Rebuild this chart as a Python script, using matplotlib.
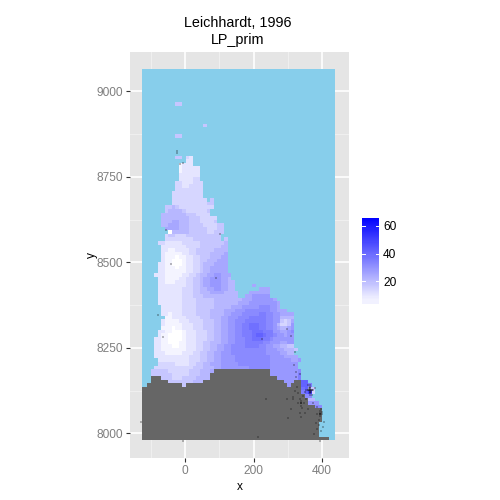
import numpy as np
import matplotlib
matplotlib.use("Agg")
import matplotlib.pyplot as plt
from matplotlib.colors import LinearSegmentedColormap
from matplotlib.patches import Rectangle

plt.rcParams['font.family'] = ['Liberation Sans', 'DejaVu Sans']

TITLE = "Leichhardt, 1996\nLP_prim"
X_TICKS = [0, 200, 400]
X_MINOR = [-100, 100, 300]
Y_TICKS = [8000, 8250, 8500, 8750, 9000]
Y_MINOR = [8125, 8375, 8625, 8875]
LEGEND_TICKS = [20, 40, 60]
VALUE_MIN, VALUE_MAX = 3.4, 66.0
LEVEL_VALUES = {'0': 3.4, '1': 6.2, '2': 9.8, '3': 13.6, '4': 17.4, '5': 21.2, '6': 25.0,
                '7': 28.6, '8': 32.2, '9': 35.4, 'A': 38.5, 'B': 42, 'C': 50}

# (row from bottom, first column, levels per cell)
LAND_ROWS = [
    (94, 10, "44"), (88, 18, "4"), (85, 10, "44"), (79, 10, "44"), (79, 13, "32"),
    (78, 13, "22"), (77, 11, "1222"), (76, 11, "122222"), (75, 11, "122222"),
    (74, 11, "222222"), (73, 11, "222233"), (72, 10, "33222333"), (71, 10, "33223333"),
    (70, 10, "33333333"), (69, 9, "333333333"), (68, 9, "333333333"),
    (67, 9, "3333333333"), (67, 20, "4"), (66, 9, "333333333344"),
    (65, 7, "44543333333333"), (64, 7, "4555543333334"), (63, 6, "55555554443333"),
    (62, 6, "5555555544433333"), (61, 6, "5556655544433334"), (60, 6, "556665554444333344"),
    (59, 7, "66665554444433344"), (58, 8, "0"), (58, 9, "555554444433444"),
    (57, 7, "3443334444444444"), (56, 7, "3333333344444444"), (56, 24, "4"),
    (55, 5, "33222223333344444445"), (54, 6, "2222222333344444455"),
    (53, 6, "2211222233444445555"), (52, 6, "2111112233444455556"),
    (51, 6, "2111011223344455566"), (50, 6, "2110001223344555666"),
    (49, 5, "22110001223345556666"), (48, 5, "22111011223345566666"),
    (47, 5, "22111111223345566666"), (46, 4, "2221111122334556677666"),
    (45, 5, "221111223344566777665"), (44, 5, "2211122233445667776655"),
    (43, 5, "2222222233445667776655"), (43, 32, "6"),
    (42, 5, "2222222333445566776655"), (42, 34, "666"),
    (41, 5, "22222223334455566665555"), (41, 31, "666666"),
    (40, 5, "22222223334445555555555"), (40, 30, "6677777"),
    (39, 5, "2222222333344444555555556667777776"),
    (38, 5, "22222223333444445555555666777777776"),
    (37, 6, "2222223333444445555566677777888776"),
    (36, 6, "222222333344445555666777888888877666"),
    (35, 6, "22122233334444555566777888889988776666"),
    (34, 7, "1122223333444555667778889999988775555"),
    (33, 6, "21111222333344455667788899999988774346"),
    (32, 6, "211111222333444556677889" "9AAA9988753347"),
    (31, 6, "111011222333444556677889" "9AAA9988765567"),
    (30, 5, "221100012223334455667788999AAA999776678"),
    (29, 5, "211000012223334455667788999ABBA99877677"),
    (28, 4, "2211000012223334455667788899AAA998777777"),
    (27, 4, "2211000112223344555667788899999887776677"),
    (26, 4, "2211100112223344556677888899998877665544"),
    (25, 4, "22111111122233445566778888888888777665554"),
    (24, 4, "2221111122233445566777888888888877776655"),
    (23, 4, "22222222223334455667777888888888877776666"),
    (22, 5, "22222222233344556677778888888888777777667"),
    (21, 5, "3333322223344556667777788888888877777777"),
    (20, 4, "33333333333444555667777777788888877777777"),
    (19, 3, "444443333334445556"), (19, 37, "777777778"),
    (18, 3, "44444433333444555"), (18, 37, "777777779"),
    (17, 6, "44433344445555"), (17, 39, "7777779"),
    (16, 8, "4444444555"), (16, 41, "777"), (16, 46, "BB"),
    (15, 12, "4"), (15, 42, "7"), (15, 46, "BB9"),
    (14, 46, "AB44"), (13, 46, "9BC3"), (12, 47, "88"), (11, 48, "55"),
    (10, 48, "777"), (9, 50, "88"),
]

# (row from bottom, first column, last column)
GREY_ROWS = [
    (19, 21, 36), (18, 20, 36), (17, 3, 5), (17, 20, 38), (16, 3, 7), (16, 18, 40),
    (16, 44, 45), (15, 2, 11), (15, 13, 41), (15, 43, 45), (14, 0, 45), (13, 0, 45),
    (12, 0, 46), (11, 0, 47), (10, 0, 47), (9, 0, 49), (8, 0, 51), (7, 0, 51),
    (6, 0, 51), (5, 0, 51), (4, 0, 50), (3, 0, 50), (2, 0, 50), (1, 0, 50), (0, 0, 53),
]

POINT_X = [-129, -7, -25, -25, -6, -14, -57, 101, -40, 89, -80, -64, 223, 297, 310, 320, 319,
           323, 335, 323, 330, 235, 298, 308, 301, 337, 335, 384, 377, 384, 401, 405, 403, 398,
           393, 213, 364, 364, 364, 364, 364, 364, 364, 354, 359, 369, 374, 350, 378, 358, 370,
           338, 338, 338, 330, 346, 334, 342, 393, 393, 393, 386, 400, 390, 396, 345, 352, 320,
           328, 314, 350, 372, 382, 392, 360, 316,
           364, 364, 364, 364, 361, 367, 361, 367, 364, 359, 369, 338, 338, 393, 393, 393]
POINT_Y = [8034, 7977, 8825, 8820, 8791, 8788, 8594, 8583, 8494, 8454, 8345, 8281, 8276, 8306,
           8285, 8237, 8200, 8178, 8175, 8164, 8119, 8100, 8100, 8070, 8044, 8049, 8060, 8014,
           7997, 8078, 8063, 8034, 8018, 8008, 7977, 7988, 8127, 8117, 8122, 8132, 8137, 8112,
           8142, 8127, 8127, 8127, 8127, 8122, 8132, 8140, 8112, 8088, 8095, 8081, 8088, 8088,
           8100, 8075, 8058, 8065, 8050, 8058, 8058, 8040, 8070, 8110, 8100, 8125, 8135, 8105,
           8060, 8090, 8030, 8025, 8072, 8100,
           8127, 8127, 8122, 8132, 8127, 8127, 8133, 8121, 8127, 8127, 8127, 8088, 8090, 8058,
           8060, 8056]

XMIN, XMAX, YMIN, YMAX = -125.0, 439.0, 7980.0, 9065.0
CELL_X, CELL_Y = 10.23, 10.4
NCOL, NROW = 56, 105

field = np.full((NROW, NCOL), np.nan)
grey = np.full((NROW, NCOL), np.nan)
for b, c, s in LAND_ROWS:
    for i, ch in enumerate(s):
        if c + i < NCOL:
            field[b, c + i] = LEVEL_VALUES[ch]
for b, c0, c1 in GREY_ROWS:
    grey[b, c0:c1 + 1] = 1
    field[b, c0:c1 + 1] = np.nan

xe = np.clip(XMIN + (np.arange(NCOL + 1) - 0.6) * CELL_X, XMIN, XMAX)
ye = np.clip(YMIN + np.arange(NROW + 1) * CELL_Y, YMIN, YMAX)

cmap = LinearSegmentedColormap.from_list("wb", ["#FFFFFF", "#0000FF"])

fig = plt.figure(figsize=(5, 5), dpi=100)
L, R, T, B = 130, 349, 52, 458
ax = fig.add_axes([L / 500, 1 - B / 500, (R - L) / 500, (B - T) / 500])
ax.set_facecolor("#E5E5E5")
ax.set_xlim(-161, 478.5)
ax.set_ylim(7928, 9115)
for s in ax.spines.values():
    s.set_visible(False)

for v in X_TICKS:
    ax.axvline(v, color="white", lw=1.2, zorder=1)
for v in X_MINOR:
    ax.axvline(v, color="#F2F2F2", lw=0.6, zorder=1)
for v in Y_TICKS:
    ax.axhline(v, color="white", lw=1.2, zorder=1)
for v in Y_MINOR:
    ax.axhline(v, color="#F2F2F2", lw=0.6, zorder=1)

ax.add_patch(Rectangle((XMIN, YMIN), XMAX - XMIN, YMAX - YMIN, facecolor="#87CEEB",
                       edgecolor="none", zorder=2))
ax.pcolormesh(xe, ye, np.ma.masked_invalid(grey), cmap=LinearSegmentedColormap.from_list(
    "g", ["#666666", "#666666"]), antialiased=False, zorder=3)
ax.pcolormesh(xe, ye, np.ma.masked_invalid(field), cmap=cmap, vmin=VALUE_MIN, vmax=VALUE_MAX,
              antialiased=False, zorder=3)
ax.scatter(POINT_X, POINT_Y, s=2.5, marker="s", color="#111111", alpha=0.28, linewidths=0, zorder=4)

ax.set_xticks(X_TICKS)
ax.set_yticks(Y_TICKS)
ax.tick_params(axis="both", length=3, width=0.8, color="#333333", labelcolor="#7F7F7F",
               labelsize=8.6, pad=2)
ax.set_xlabel("x", fontsize=8.6, labelpad=3)
ax.set_ylabel("y", fontsize=8.6, labelpad=-1)
fig.text(238 / 500, 1 - 31.5 / 500, TITLE, ha="center", va="center", fontsize=10.4, linespacing=1.2)

# colour bar
cax = fig.add_axes([362 / 500, 1 - 304 / 500, 17 / 500, 86.3 / 500])
bins = np.linspace(VALUE_MIN, VALUE_MAX, 81)
mid = np.clip(0.5 * (bins[:-1] + bins[1:]), 7.0, None)
cax.pcolormesh([0, 1], bins, mid[:, None], cmap=cmap, vmin=VALUE_MIN, vmax=VALUE_MAX,
               antialiased=False)
cax.set_xlim(0, 1)
cax.set_ylim(VALUE_MIN, VALUE_MAX)
cax.set_xticks([])
cax.yaxis.tick_right()
cax.set_yticks(LEGEND_TICKS)
cax.tick_params(axis="y", length=0, labelsize=8.6, pad=3, labelcolor="black")
for s in cax.spines.values():
    s.set_visible(False)
for v in LEGEND_TICKS:
    cax.plot([0, 0.2], [v, v], color="white", lw=0.7)
    cax.plot([0.8, 1], [v, v], color="white", lw=0.7)

fig.savefig("out.png", dpi=100)
